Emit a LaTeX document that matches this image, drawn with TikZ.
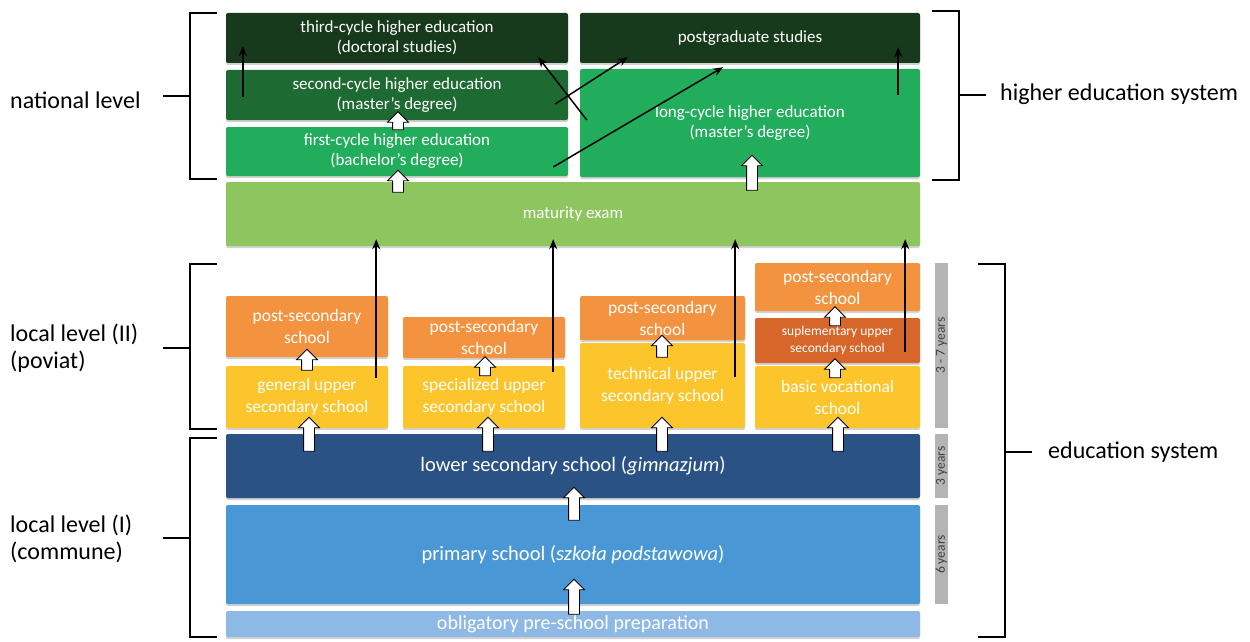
\documentclass[tikz,border=0pt]{standalone}
\usepackage{fontspec}
\setmainfont{Carlito}
\usetikzlibrary{arrows.meta,calc,shapes.arrows,shadows}
\definecolor{dkGreen}{HTML}{173A1C}
\definecolor{midGreen}{HTML}{1E6A33}
\definecolor{ltGreen}{HTML}{22AD5C}
\definecolor{matGreen}{HTML}{8DC55F}
\definecolor{psOrange}{HTML}{F39340}
\definecolor{supOrange}{HTML}{D6662A}
\definecolor{upYellow}{HTML}{FCC52B}
\definecolor{lowBlue}{HTML}{2B5285}
\definecolor{primBlue}{HTML}{4A97D5}
\definecolor{preBlue}{HTML}{8DB9E4}
\definecolor{barGray}{HTML}{B4B4B4}
\definecolor{barText}{HTML}{404040}
\tikzset{
    box/.style={
           rectangle, rounded corners=2pt,
           inner sep=2pt, align=center, text=white,
           drop shadow={shadow xshift=0pt,shadow yshift=-2pt,opacity=0.35},
           },
}
\tikzset{
    upblock/.style={
           single arrow, draw=black, thick, fill=white,
           rotate=90, inner sep=5pt,
           single arrow head extend=5pt,
           },
}
\tikzset{
    thinarrow/.style={-{Stealth[length=10pt,width=8pt]}, line width=1.5pt},
    bracket/.style={line width=1.3pt},
    yearbar/.style={fill=barGray, rotate=90, inner sep=0pt, minimum height=13pt,
           text=barText, font=\fontsize{13.5}{13.5}\selectfont},
    levellabel/.style={anchor=west, inner sep=0pt, align=left,
           font=\fontsize{24}{27}\selectfont},
    hetext/.style={font=\fontsize{17}{20}\selectfont},
    sctext/.style={font=\fontsize{17.5}{22}\selectfont},
}

\begin{document}
\begin{tikzpicture}[x=1pt,y=-1pt]
\fill[white] (0,0) rectangle (1250,642);
\useasboundingbox (0,0) rectangle (1250,642);
\node[box,hetext,fill=dkGreen,minimum width=342pt,minimum height=50pt](thirdcyc) at (397,38){third-cycle higher education\\(doctoral studies)};
\node[box,hetext,fill=midGreen,minimum width=342pt,minimum height=50pt](second) at (397,95){second-cycle higher education\\(master’s degree)};
\node[box,hetext,fill=ltGreen,minimum width=342pt,minimum height=49pt](first) at (397,151.5){first-cycle higher education\\(bachelor’s degree)};
\node[box,hetext,fill=dkGreen,minimum width=340pt,minimum height=50pt](postgrad) at (750,38){postgraduate studies};
\node[box,hetext,fill=ltGreen,minimum width=340pt,minimum height=108pt](longcyc) at (750,123){long-cycle higher education\\(master’s degree)};
\node[box,hetext,fill=matGreen,minimum width=694pt,minimum height=64pt](mat) at (573,214){maturity exam};
\node[box,sctext,fill=psOrange,minimum width=162pt,minimum height=61pt](ps1) at (307,326.5){post-secondary\\school};
\node[box,sctext,fill=upYellow,minimum width=162pt,minimum height=62pt](gen) at (307,397){general upper\\secondary school};
\node[box,sctext,fill=psOrange,minimum width=162pt,minimum height=41pt](ps2) at (484,337.5){post-secondary\\school};
\node[box,sctext,fill=upYellow,minimum width=162pt,minimum height=62pt](spec) at (484,397){specialized upper\\secondary school};
\node[box,sctext,fill=psOrange,minimum width=165pt,minimum height=44pt](ps3) at (662.5,318){post-secondary\\school};
\node[box,sctext,fill=upYellow,minimum width=165pt,minimum height=85pt](tech) at (662.5,385.5){technical upper\\secondary school};
\node[box,sctext,fill=psOrange,minimum width=165pt,minimum height=48pt](ps4) at (837.5,287){post-secondary\\school};
\node[box,fill=supOrange,minimum width=165pt,minimum height=45pt,font=\fontsize{13.5}{17}\selectfont](supl) at (837.5,340.5){suplementary upper\\secondary school};
\node[box,sctext,fill=upYellow,minimum width=165pt,minimum height=62pt](basic) at (837.5,397){basic vocational\\school};
\node[box,fill=lowBlue,minimum width=694pt,minimum height=64pt,font=\fontsize{20.5}{22}\selectfont](lower) at (573,466){lower secondary school (\textit{gimnazjum})};
\node[box,fill=primBlue,minimum width=694pt,minimum height=99pt,font=\fontsize{20.5}{22}\selectfont](primary) at (573,554.5){primary school (\textit{szkoła podstawowa})};
\node[box,fill=preBlue,minimum width=694pt,minimum height=26pt,font=\fontsize{20}{20}\selectfont](presch) at (573,624){obligatory pre-school preparation};
\node[yearbar,minimum width=165pt](yr37) at (941.5,345.5){3 - 7 years};
\node[yearbar,minimum width=64pt](yr3) at (941.5,466){3 years};
\node[yearbar,minimum width=99pt](yr6) at (941.5,554.5){6 years};
\draw[thinarrow] ($(second.west)+(17,2)$) -- ($(thirdcyc.west)+(17,8)$);
\draw[thinarrow] ($(second.east)+(-13,9)$) -- ($(postgrad.south west)+(48,-6)$);
\draw[thinarrow] ($(longcyc.west)+(7,-3)$) -- ($(thirdcyc.south east)+(-30,-6)$);
\draw[thinarrow] ($(first.east)+(-15,15.5)$) -- ($(postgrad.south)+(-27,4)$);
\draw[thinarrow] ($(longcyc.north east)+(-22,26)$) -- ($(postgrad.south east)+(-22,-16)$);
\draw[thinarrow] ($(gen.north east)+(-12,12)$) -- ($(gen.north east |- mat.south)+(-12,-7)$);
\draw[thinarrow] ($(spec.north east)+(-12,6)$) -- ($(spec.north east |- mat.south)+(-12,-7)$);
\draw[thinarrow] ($(tech.north east)+(-10,34)$) -- ($(tech.north east |- mat.south)+(-10,-7)$);
\draw[thinarrow] ($(supl.north east)+(-15,34)$) -- ($(supl.north east |- mat.south)+(-15,-7)$);
\node[upblock,minimum height=18pt](up1) at (398,123.5){};
\node[upblock,minimum height=22pt](up2) at (398,184){};
\node[upblock,minimum height=35pt](up3) at (752,175.5){};
\node[upblock,minimum height=21pt](up4) at (307,362.5){};
\node[upblock,minimum height=19pt](up5) at (485,369){};
\node[upblock,minimum height=22pt](up6) at (662,349){};
\node[upblock,minimum height=19pt](up7) at (835,319){};
\node[upblock,minimum height=19pt](up8) at (835,371){};
\node[upblock,minimum height=34pt](up9) at (309,437){};
\node[upblock,minimum height=34pt](up10) at (488,437){};
\node[upblock,minimum height=34pt](up11) at (662,437){};
\node[upblock,minimum height=34pt](up12) at (838,437){};
\node[upblock,minimum height=33pt](up13) at (574,506.5){};
\node[upblock,minimum height=35pt](up14) at (574,599.5){};
\draw[bracket] (217,13) -| (190,179) -- (217,179);
\draw[bracket] (190,96) -- (163,96);
\draw[bracket] (217,264) -| (190,429) -- (217,429);
\draw[bracket] (190,348) -- (163,348);
\draw[bracket] (217,438) -| (190,637) -- (217,637);
\draw[bracket] (190,538) -- (163,538);
\draw[bracket] (932,11) -| (959,180) -- (932,180);
\draw[bracket] (959,95) -- (986,95);
\draw[bracket] (978,264) -| (1005,637) -- (978,637);
\draw[bracket] (1005,452) -- (1032,452);
\node[levellabel](natl) at (10,100){national level};
\node[levellabel](loc2) at (10,348.5){local level (II)\\(poviat)};
\node[levellabel](loc1) at (10,538.5){local level (I)\\(commune)};
\node[levellabel](hes) at (1000,94){higher education system};
\node[levellabel](edsys) at (1048,452){education system};
\end{tikzpicture}
\end{document}
